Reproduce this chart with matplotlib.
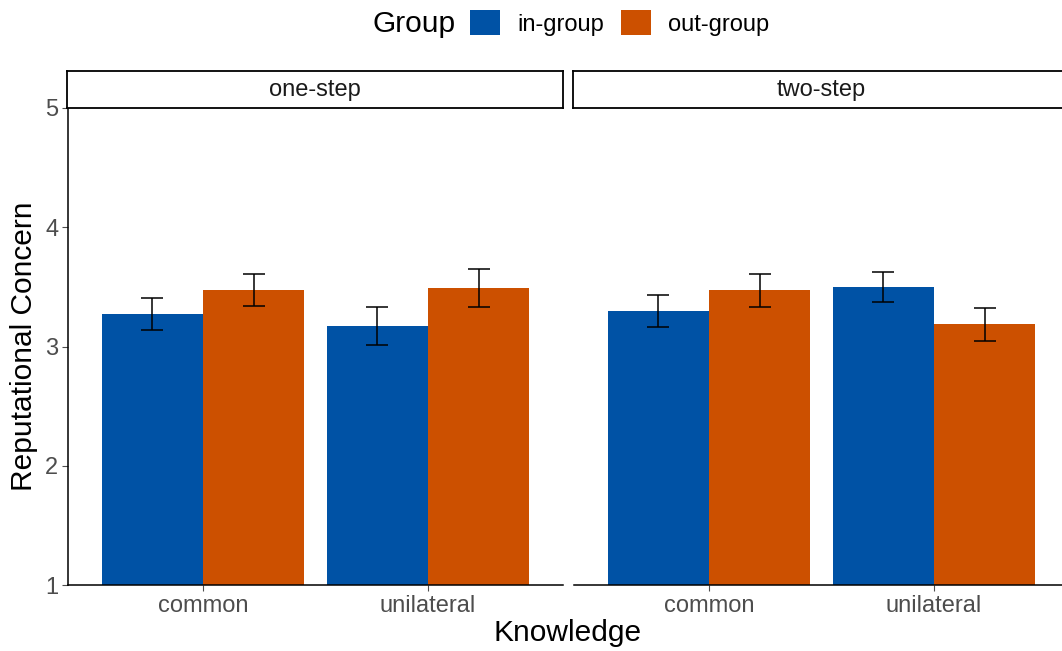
import matplotlib
matplotlib.use("Agg")
import matplotlib.pyplot as plt
from matplotlib.patches import Patch
import numpy as np

plt.rcParams['font.family'] = ['Liberation Sans', 'DejaVu Sans']

panels = ["one-step", "two-step"]
knowledge = ["common", "unilateral"]
groups = ["in-group", "out-group"]
colors = ["#0052A5", "#CC5000"]

means_one_in = [3.27, 3.17]
means_one_out = [3.47, 3.49]
means_two_in = [3.30, 3.50]
means_two_out = [3.47, 3.19]
lo_one_in = [3.14, 3.015]
hi_one_in = [3.41, 3.335]
lo_one_out = [3.34, 3.33]
hi_one_out = [3.605, 3.65]
lo_two_in = [3.16, 3.37]
hi_two_in = [3.435, 3.625]
lo_two_out = [3.33, 3.05]
hi_two_out = [3.61, 3.32]

data = {
    "one-step": [(means_one_in, lo_one_in, hi_one_in), (means_one_out, lo_one_out, hi_one_out)],
    "two-step": [(means_two_in, lo_two_in, hi_two_in), (means_two_out, lo_two_out, hi_two_out)],
}

W, H = 1062, 651
fig = plt.figure(figsize=(W / 100, H / 100), dpi=100)

def fx(px):
    return px / W

def fy(py):
    return 1 - py / H

panel_left = [68, 574]
panel_w = 495
top, bottom = 108, 585
strip_top = 71
tick_col = "#4D4D4D"
tick_fs = 17
title_fs = 21.5

x = np.arange(1, len(knowledge) + 1)
bw = 0.45

for i, p in enumerate(panels):
    ax = fig.add_axes([fx(panel_left[i]), fy(bottom), fx(panel_w), (bottom - top) / H])
    for g in range(2):
        m, lo, hi = data[p][g]
        xs = x + (g - 0.5) * bw
        ax.bar(xs, np.array(m) - 1, bottom=1, width=bw, color=colors[g],
               edgecolor="none", zorder=2)
        ax.errorbar(xs, m, yerr=[np.array(m) - np.array(lo), np.array(hi) - np.array(m)],
                    fmt="none", ecolor="black", elinewidth=1.1, capsize=8, capthick=1.1,
                    zorder=3)
    ax.set_xlim(0.4, 2.6)
    ax.set_ylim(1, 5)
    ax.set_xticks(x)
    ax.set_xticklabels(knowledge, fontsize=tick_fs, color=tick_col)
    ax.tick_params(axis="x", length=4, width=0.8, color=tick_col, pad=3)
    for s in ["top", "right"]:
        ax.spines[s].set_visible(False)
    ax.spines["bottom"].set_linewidth(1.1)
    ax.spines["left"].set_linewidth(1.1)
    if i == 0:
        ax.set_yticks([1, 2, 3, 4, 5])
        ax.set_yticklabels(["1", "2", "3", "4", "5"], fontsize=tick_fs, color=tick_col)
        ax.tick_params(axis="y", length=4, width=0.8, color=tick_col, pad=3)
    else:
        ax.spines["left"].set_visible(False)
        ax.set_yticks([])
    sax = fig.add_axes([fx(panel_left[i] - 1), fy(top), fx(panel_w + 1), (top - strip_top) / H])
    sax.set_xticks([]); sax.set_yticks([])
    for s in sax.spines.values():
        s.set_linewidth(1.3)
        s.set_color("black")
    sax.text(0.5, 0.48, p, ha="center", va="center", fontsize=tick_fs, color="#1A1A1A",
             transform=sax.transAxes)

fig.text(fx(24), fy(346), "Reputational Concern", rotation=90, ha="center", va="center",
         fontsize=title_fs, color="black")
fig.text(fx(568), fy(633), "Knowledge", ha="center", va="center", fontsize=title_fs, color="black")

fig.text(fx(373), fy(24), "Group", ha="left", va="center", fontsize=title_fs, color="black")
handles = [Patch(facecolor=c, edgecolor="none") for c in colors]
fig.legend(handles, groups, ncol=2, loc="center left", bbox_to_anchor=(fx(470), fy(23)),
           frameon=False, fontsize=tick_fs, handlelength=1.27, handleheight=1.27,
           handletextpad=0.72, columnspacing=0.72, borderpad=0, borderaxespad=0)

fig.savefig("out.png", dpi=100)
